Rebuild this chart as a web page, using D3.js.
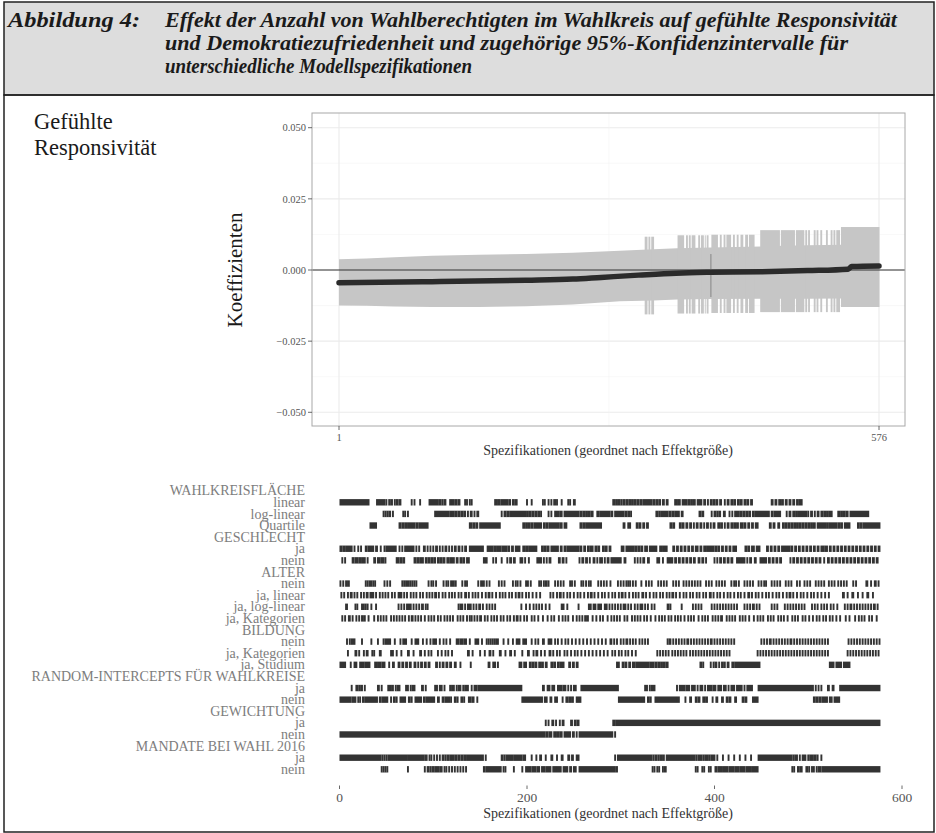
<!DOCTYPE html>
<html>
<head>
<meta charset="UTF-8">
<script src="https://cdn.jsdelivr.net/npm/d3@7"></script>
<style>
body{margin:0;background:#fff;font-family:"Liberation Serif","Times New Roman",serif;}
</style>
</head>
<body>
<script>
var nSpecs = 576;

// title lines
var titleLabel = "Abbildung 4:";
var titleLines = ["Effekt der Anzahl von Wahlberechtigten im Wahlkreis auf gefühlte Responsivität",
                  "und Demokratiezufriedenheit und zugehörige 95%-Konfidenzintervalle für",
                  "unterschiedliche Modellspezifikationen"];

// coefficient curve, read at some specs: [spec, coef]
var coefs = [[1,-0.0045],[100,-0.0041],[200,-0.0036],[250,-0.0032],[280,-0.0026],[320,-0.0018],
             [360,-0.0011],[397,-0.0008],[450,-0.0006],[500,-0.0002],[543,0.0003],[547,0.0012],[576,0.0014]];
// normal width of the 95% band: [spec, lo, hi]
var ciBand = [[1,-0.0125,0.0038],[30,-0.0126,0.0040],[60,-0.0128,0.0045],[100,-0.0130,0.0050],
              [150,-0.0130,0.0054],[200,-0.0127,0.0056],[250,-0.0121,0.0061],[300,-0.0110,0.0068],
              [336,-0.0107,0.0073],[361,-0.0104,0.0076],[397,-0.0102,0.0079],[450,-0.0101,0.0083],
              [500,-0.0101,0.0087],[536,-0.0100,0.0089]];
// wider intervals: [from, to, lo, hi]
var ciWide = [[327,329,-0.0156,0.0117],[331,332,-0.0156,0.0117],[334,336,-0.0156,0.0117],
  [362,368,-0.0153,0.0122],[371,372,-0.0153,0.0122],[374,375,-0.0153,0.0122],[377,380,-0.0153,0.0122],
  [384,385,-0.0153,0.0122],[387,389,-0.0153,0.0122],[391,391,-0.0153,0.0122],[393,394,-0.0153,0.0122],
  [398,404,-0.0151,0.0124],[407,408,-0.0151,0.0124],[411,412,-0.0151,0.0124],[414,418,-0.0151,0.0124],
  [421,422,-0.0151,0.0124],[425,426,-0.0151,0.0124],[429,431,-0.0151,0.0124],[434,436,-0.0151,0.0124],
  [438,443,-0.0151,0.0124],[450,470,-0.0148,0.0140],[472,486,-0.0148,0.0140],[488,496,-0.0148,0.0140],
  [498,499,-0.0148,0.0140],[501,502,-0.0148,0.0140],[507,508,-0.0148,0.0140],[510,511,-0.0148,0.0140],
  [514,515,-0.0148,0.0140],[520,521,-0.0148,0.0140],[525,526,-0.0148,0.0140],[528,529,-0.0148,0.0140],
  [531,534,-0.0148,0.0140],[536,576,-0.0130,0.0151]];
var markedSpec = {spec:397, lo:-0.0095, hi:0.0056};
var yTicks = [-0.05,-0.025,0,0.025,0.05];

// specification rows: single spec or [from,to]
var wkLinear = [[1,31],[40,48],50,53,[55,56],59,[61,62],[64,65],77,80,86,[96,105],[107,108],110,[112,113],[118,119],
  [121,122],[124,125],[127,128],134,136,139,141,[166,168],[170,171],[173,179],[181,182],[185,186],[188,189],200,205,
  217,219,223,226,[229,230],232,237,244,246,[250,251],[292,293],[295,296],[298,299],301,[303,304],[306,307],[309,310],
  [312,313],[315,316],[318,319],[321,322],[324,333],[335,336],[338,339],[341,342],[345,346],[349,350],[358,360],
  [362,363],[366,370],[372,373],[375,376],[378,379],[382,386],[389,390],393,[396,397],[399,400],[402,403],[406,407],
  411,[414,415],[418,419],[421,422],[425,426],[428,429],[432,433],[435,436],[439,440],[461,462],[465,466],[469,470],
  [472,473],[476,477],[480,481],[484,485],[488,489],[491,493]];
var wkLogLinear = [47,49,51,[53,54],57,68,70,73,[102,116],[118,119],[121,122],[124,125],[127,128],[130,131],[133,134],
  137,[140,141],144,[147,148],173,[176,177],[179,180],[182,183],[185,198],[200,201],[203,204],[206,207],[209,210],
  [212,213],215,223,226,[230,231],[233,234],[236,237],[240,255],[257,258],[260,261],[263,264],[266,267],[269,270],
  [275,276],[278,288],[290,291],[294,303],[305,306],[308,309],311,[338,339],341,[343,350],[352,353],[355,356],
  [358,359],[361,362],[365,366],[384,385],[387,388],397,[400,401],403,[405,406],[410,411],416,419,[422,423],
  [425,426],[428,429],[431,432],[434,435],[437,438],[441,442],[444,458],[461,462],[464,470],477,[480,481],[484,485],
  [487,488],[490,498],500,[503,504],507,[510,511],[514,515],[517,518],[520,521],[523,525],[532,533],[535,536],
  [538,539],[541,542],[545,564]];
var wkQuartile = [[33,39],[64,65],[67,68],[70,72],[74,80],[82,83],[85,94],[139,141],[143,144],[146,147],[150,171],
  [196,197],[199,200],[202,203],[205,206],[208,215],[218,219],[221,222],[224,234],[236,237],[240,242],[257,258],
  [260,261],[263,279],[303,304],[308,310],[317,318],[320,321],[324,325],[328,329],[353,354],[356,357],[363,364],
  [366,367],[370,371],[374,375],378,[381,382],[385,386],389,[392,393],396,[399,400],[404,405],[407,408],411,
  [414,415],[418,419],[421,422],[424,425],[428,430],[432,433],[436,437],[440,441],[444,446],[459,460],[463,464],
  [468,469],[473,474],[476,477],[479,480],[482,483],[485,486],[488,489],[491,492],[494,495],[497,498],[500,501],
  [503,504],[506,507],[510,518],[520,521],[523,530],[532,533],[535,536],[539,544],[553,554],[556,557],[559,576]];
var geschlechtJa = [[1,2],[4,5],[7,13],16,20,23,[28,29],[31,36],[39,40],44,48,[50,60],64,67,[70,79],82,85,[90,91],94,
  97,100,[103,104],107,110,[113,114],117,120,[123,124],[127,128],131,[134,135],[139,153],[158,163],[165,166],[168,172],
  [174,178],[180,181],[184,185],[188,192],[196,197],[199,201],[203,210],[216,217],[219,220],[222,223],[226,233],
  [236,237],[240,241],[243,255],[257,258],[261,262],[265,266],[268,270],[273,274],[276,277],[281,282],[284,285],
  [288,289],[301,303],[306,314],[316,317],[319,320],[322,323],[326,328],[331,338],[342,344],[346,349],[356,357],
  [360,361],[364,365],[368,369],[372,373],[376,377],[380,382],[385,386],[389,390],[392,399],[401,402],[404,405],
  [408,409],[412,413],[416,417],[420,423],[433,434],[436,437],[440,442],[445,448],[456,457],[460,461],[464,465],
  [468,469],[472,480],[482,483],[486,487],[490,491],[494,495],[498,499],[502,503],[506,507],[510,511],[514,516],
  [518,520],[523,524],[527,528],[531,532],[535,536],[539,540],[543,544],[547,548],[551,552],[555,556],[559,560],
  [563,564],[567,568],[571,572],[575,576]];
var alterNein = [1,4,[7,8],10,28,30,[32,34],36,38,48,51,54,67,69,71,[73,74],76,78,80,82,95,98,100,103,111,114,116,
  119,[121,122],124,131,134,136,148,151,[153,154],157,160,170,173,176,185,188,190,193,199,201,204,213,215,218,
  [220,221],223,230,233,236,239,246,248,251,258,260,263,266,268,276,279,282,285,289,297,300,303,306,308,310,313,
  316,322,327,330,333,340,343,346,349,356,359,362,367,370,373,376,379,382,385,391,394,397,402,405,408,411,418,421,
  423,426,432,435,438,441,447,450,453,455,461,464,467,470,476,479,482,488,491,496,499,502,508,511,514,517,522,525,
  528,532,535,538,541,548,551,[562,563],567,[571,572],575];
var alterLinear = [2,5,9,[12,13],16,19,23,26,[29,30],[33,36],39,43,46,49,52,56,59,[63,66],69,72,76,79,82,86,89,93,96,
  99,[102,103],106,110,113,117,120,123,127,130,[134,135],138,142,145,148,152,156,[159,160],163,167,171,174,177,181,
  184,188,[191,192],195,199,202,206,210,214,225,228,232,[235,236],239,243,246,250,254,257,261,265,[268,269],272,276,
  280,283,287,291,294,298,[301,302],305,309,313,316,319,[323,324],327,331,335,338,342,345,349,352,[355,356],359,
  363,367,370,374,377,381,384,388,391,[395,396],399,403,406,410,414,417,421,425,428,432,[436,437],440,444,447,451,
  455,458,462,466,469,473,477,[480,481],484,488,492,495,499,503,506,510,514,518,522,[537,538],542,[547,548],553,
  558,[563,564],569];
var alterLogLinear = [[7,8],17,19,[24,26],28,30,34,39,63,66,69,[72,76],79,82,85,[88,89],92,94,127,[129,131],134,
  [137,140],143,146,[149,150],153,157,160,163,166,194,199,203,207,210,213,216,220,224,[237,239],243,255,[266,268],
  [271,273],[276,279],[283,285],288,291,294,297,300,[303,305],308,311,315,318,[321,323],326,329,333,336,[350,351],
  353,365,377,380,383,386,397,400,403,406,409,412,415,418,421,424,432,435,438,[441,442],445,448,461,464,467,475,
  478,481,484,487,490,493,496,504,507,510,514,517,520,524,527,531,539,542,[545,546],549,552,555,558,561,564,567,
  [570,571],574];
var alterKat = [3,6,[10,11],14,18,21,[24,25],27,31,37,41,44,47,50,55,58,61,64,67,70,74,[77,78],81,84,87,91,95,98,
  101,105,108,112,115,118,121,126,129,132,136,139,141,144,147,[150,151],155,158,162,165,168,172,175,179,182,186,
  [189,190],193,197,200,205,208,212,217,222,226,229,234,238,241,244,249,253,256,259,262,[264,265],270,274,278,281,
  286,290,293,296,299,304,307,312,315,318,321,325,328,332,337,341,344,347,351,354,358,361,364,368,372,375,378,383,
  387,390,393,398,401,404,[407,408],413,416,419,422,427,430,433,437,442,446,449,452,457,460,463,468,471,474,478,
  483,486,489,494,497,501,505,509,512,516,519,523,526,530,534,540,544,550,554,557,560,565,568,573];
var bildungNein = [8,11,[13,16],24,34,41,47,[49,54],59,65,[68,71],77,[81,84],89,93,97,[100,103],107,111,114,118,
  [125,127],[129,131],[133,135],139,[145,148],152,157,159,161,163,165,167,169,175,180,185,[189,192],[196,199],205,209,
  212,[217,218],[223,226],230,233,237,241,244,248,252,256,260,264,268,272,276,280,284,289,290,293,296,300,303,
  [306,307],310,313,316,320,323,326,329,350,[352,353],356,359,362,365,368,[371,372],375,378,381,384,387,390,393,
  [396,397],400,403,406,409,412,415,418,421,450,453,456,[459,460],463,466,469,472,475,478,[481,482],485,488,491,
  494,497,500,503,506,509,512,515,518,521,543,546,549,552,555,558,561,564,567,570,573,576];
var bildungKat = [9,[17,18],21,26,[29,30],35,37,[43,44],55,57,61,66,[73,74],79,[86,87],91,95,98,105,109,113,116,120,
  [137,138],142,150,155,[160,161],164,[171,172],177,[182,183],187,195,[201,202],207,[210,211],215,219,[224,225],228,
  232,235,240,243,247,251,254,258,262,266,270,274,278,282,286,291,294,298,301,305,308,312,316,339,342,345,348,351,
  355,358,361,364,367,370,374,377,380,383,386,389,392,395,398,401,404,407,410,413,416,446,449,452,455,458,461,464,
  467,470,473,476,479,482,485,488,491,494,497,500,503,506,509,512,515,518,521,542,545,548,551,554,557,560,563,566,
  569,572,575];
var bildungStudium = [[1,6],12,[16,18],[22,23],[25,26],[28,32],[38,40],[42,44],[46,48],53,[57,58],[63,64],[67,68],
  [71,72],[75,76],[80,81],84,[87,88],[91,92],[95,96],[103,104],107,[110,111],[114,115],[118,119],[123,124],129,140,
  [159,160],[164,166],169,[192,194],[197,199],[203,204],[206,207],[209,210],[213,214],[216,217],[220,221],[226,227],
  [229,230],[233,234],[236,237],[238,239],[245,246],[249,250],[253,254],[296,298],[302,303],[305,306],[309,310],
  [313,315],[317,330],[332,335],[337,338],[340,341],[343,344],[346,347],[349,350],[385,386],388,396,399,[401,402],
  405,[408,409],411,[414,415],[419,420],[422,448],[523,527],[530,535],[538,544]];
var randomJa = [13,[18,19],21,[23,24],27,[41,42],45,[52,54],[56,57],60,[62,64],[71,73],76,[78,80],[88,89],92,
  [102,104],[107,109],112,118,[120,122],125,[127,129],132,[134,137],141,[144,146],[148,194],[217,218],[222,224],
  [227,229],[233,237],[239,241],244,247,[250,252],[258,297],[326,328],331,[333,336],360,[363,368],[370,373],
  [376,379],382,[385,387],390,[393,397],[399,401],[404,407],[410,412],415,[418,421],[424,429],432,[435,440],
  [447,505],508,511,514,[521,522],[526,527],[534,576]];
var gewichtungJa = [220,223,[227,228],231,235,[238,239],[247,248],[251,252],[254,255],[292,293],[295,576]];
var mandateJa = [[1,44],46,48,50,[52,72],[74,90],[92,93],96,98,101,104,107,[110,111],113,[115,116],[118,119],
  [121,122],[124,125],[127,128],[130,131],[133,134],[136,153],156,[173,174],176,[178,185],[187,194],[196,198],205,
  210,[214,215],220,[226,227],232,[237,238],[244,245],[248,249],[253,255],294,[297,333],335,[337,338],340,
  [342,344],346,[349,379],381,[383,386],388,[390,393],395,[397,400],403,409,415,421,427,433,439,[447,482],484,
  [486,488],491,[494,497],500,[502,503],505,[507,508],510,514];

// label column; rows without runs are group headings
var rows = [
  {label:"WAHLKREISFLÄCHE"}, {label:"linear", runs:wkLinear}, {label:"log-linear", runs:wkLogLinear},
  {label:"Quartile", runs:wkQuartile},
  {label:"GESCHLECHT"}, {label:"ja", runs:geschlechtJa}, {label:"nein", notOf:geschlechtJa},
  {label:"ALTER"}, {label:"nein", runs:alterNein}, {label:"ja, linear", runs:alterLinear},
  {label:"ja, log-linear", runs:alterLogLinear}, {label:"ja, Kategorien", runs:alterKat},
  {label:"BILDUNG"}, {label:"nein", runs:bildungNein}, {label:"ja, Kategorien", runs:bildungKat},
  {label:"ja, Studium", runs:bildungStudium},
  {label:"RANDOM-INTERCEPTS FÜR WAHLKREISE"}, {label:"ja", runs:randomJa}, {label:"nein", notOf:randomJa},
  {label:"GEWICHTUNG"}, {label:"ja", runs:gewichtungJa}, {label:"nein", notOf:gewichtungJa},
  {label:"MANDATE BEI WAHL 2016"}, {label:"ja", runs:mandateJa}, {label:"nein", notOf:mandateJa}
];
var bottomTicks = [0,200,400,600];

var width = 936, height = 833;
var svg = d3.select("body").append("svg").attr("width",width).attr("height",height);

// frame + title box
svg.append("rect").attr("x",4).attr("y",2).attr("width",930).attr("height",93)
   .attr("fill","#dddddd").attr("stroke","#222").attr("stroke-width",1.5);
svg.append("rect").attr("x",4).attr("y",95).attr("width",930).attr("height",737)
   .attr("fill","none").attr("stroke","#222").attr("stroke-width",1.5);

var tEnds = [897, 848, 472];
svg.append("text").attr("x",8).attr("y",27).attr("font-size",20).attr("font-style","italic")
   .attr("font-weight","bold").attr("fill","#1a1a1a").attr("textLength",132).attr("lengthAdjust","spacingAndGlyphs")
   .text(titleLabel);
titleLines.forEach(function(t,i){
  svg.append("text").attr("x",165).attr("y",27 + i*23).attr("font-size",20).attr("font-style","italic")
     .attr("font-weight","bold").attr("fill","#1a1a1a")
     .attr("textLength",tEnds[i]-165).attr("lengthAdjust","spacingAndGlyphs").text(t);
});

svg.append("text").attr("x",34).attr("y",129).attr("font-size",22.5).attr("fill","#1a1a1a").text("Gefühlte");
svg.append("text").attr("x",34).attr("y",155).attr("font-size",22.5).attr("fill","#1a1a1a").text("Responsivität");

// ---- top panel ----
var px0 = 312, px1 = 905, py0 = 113, py1 = 426;
var x = d3.scaleLinear().domain([1,nSpecs]).range([339,879]);
var y = d3.scaleLinear().domain([-0.05,0.05]).range([412.3,127.7]);

var gTop = svg.append("g");
gTop.append("rect").attr("x",px0).attr("y",py0).attr("width",px1-px0).attr("height",py1-py0).attr("fill","white");
var minorY = yTicks.slice(1).map(function(d,i){ return (d + yTicks[i])/2; });
gTop.selectAll(".gmy").data(minorY).enter().append("line")
   .attr("x1",px0).attr("x2",px1).attr("y1",function(d){return y(d);}).attr("y2",function(d){return y(d);})
   .attr("stroke","#f3f3f3").attr("stroke-width",0.6);
gTop.selectAll(".gy").data(yTicks).enter().append("line")
   .attr("x1",px0).attr("x2",px1).attr("y1",function(d){return y(d);}).attr("y2",function(d){return y(d);})
   .attr("stroke","#ebebeb").attr("stroke-width",1.1);
gTop.append("line").attr("x1",x((1+nSpecs)/2)).attr("x2",x((1+nSpecs)/2)).attr("y1",py0).attr("y2",py1)
   .attr("stroke","#f3f3f3").attr("stroke-width",0.6);
gTop.selectAll(".gx").data([1,nSpecs]).enter().append("line")
   .attr("x1",function(d){return x(d);}).attr("x2",function(d){return x(d);}).attr("y1",py0).attr("y2",py1)
   .attr("stroke","#ebebeb").attr("stroke-width",1.1);

var band = d3.area().x(function(d){return x(d[0]);}).y0(function(d){return y(d[1]);}).y1(function(d){return y(d[2]);})
   .curve(d3.curveLinear);
gTop.append("path").datum(ciBand).attr("d",band).attr("fill","#c6c6c6");
gTop.selectAll(".wide").data(ciWide).enter().append("rect")
   .attr("x",function(d){return x(d[0]-0.5);}).attr("width",function(d){return x(d[1]+0.5)-x(d[0]-0.5);})
   .attr("y",function(d){return y(d[3]);}).attr("height",function(d){return y(d[2])-y(d[3]);})
   .attr("fill","#c6c6c6");

gTop.append("line").attr("x1",px0).attr("x2",px1).attr("y1",y(0)).attr("y2",y(0))
   .attr("stroke","#333").attr("stroke-width",1);
gTop.append("line").attr("x1",x(markedSpec.spec)).attr("x2",x(markedSpec.spec))
   .attr("y1",y(markedSpec.hi)).attr("y2",y(markedSpec.lo)).attr("stroke","#858585").attr("stroke-width",1);

var coefLine = d3.line().x(function(d){return x(d[0]);}).y(function(d){return y(d[1]);}).curve(d3.curveMonotoneX);
gTop.append("path").datum(coefs).attr("d",coefLine).attr("fill","none")
   .attr("stroke","#2b2b2b").attr("stroke-width",5.5).attr("stroke-linecap","round");

gTop.append("rect").attr("x",px0).attr("y",py0).attr("width",px1-px0).attr("height",py1-py0)
   .attr("fill","none").attr("stroke","#a8a8a8").attr("stroke-width",1);

// y axis
gTop.selectAll(".yt").data(yTicks).enter().append("line")
   .attr("x1",px0-4).attr("x2",px0).attr("y1",function(d){return y(d);}).attr("y2",function(d){return y(d);})
   .attr("stroke","#444").attr("stroke-width",0.8);
gTop.selectAll(".yl").data(yTicks).enter().append("text")
   .attr("x",px0-6).attr("y",function(d){return y(d);}).attr("dy","0.35em").attr("text-anchor","end")
   .attr("font-size",10.5).attr("fill","#555").text(d3.format(".3f"));
// x axis
gTop.selectAll(".xt").data([1,nSpecs]).enter().append("line")
   .attr("x1",function(d){return x(d);}).attr("x2",function(d){return x(d);}).attr("y1",py1).attr("y2",py1+4)
   .attr("stroke","#444").attr("stroke-width",0.8);
gTop.selectAll(".xl").data([1,nSpecs]).enter().append("text")
   .attr("x",function(d){return x(d);}).attr("y",441).attr("text-anchor","middle")
   .attr("font-size",10.5).attr("fill","#555").text(function(d){return d;});
gTop.append("text").attr("x",608).attr("y",455).attr("text-anchor","middle").attr("font-size",14)
   .attr("fill","#333").text("Spezifikationen (geordnet nach Effektgröße)");
gTop.append("text").attr("transform","translate(242,270) rotate(-90)").attr("text-anchor","middle")
   .attr("font-size",21).attr("fill","#1a1a1a").text("Koeffizienten");

// ---- bottom panel ----
var xb = d3.scaleLinear().domain([0,600]).range([339.5,902]);
var slot = d3.scaleLinear().domain([0,24]).range([490.7,769.3]);

function toSet(runs){
  var s = new Set();
  runs.forEach(function(r){
    var a = Array.isArray(r) ? r[0] : r, b = Array.isArray(r) ? r[1] : r;
    for (var i = a; i <= b; i++) s.add(i);
  });
  return s;
}
function toRuns(s){
  var out = [], start = null;
  for (var i = 1; i <= nSpecs + 1; i++){
    if (s.has(i) && start === null) start = i;
    if (!s.has(i) && start !== null){ out.push([start, i-1]); start = null; }
  }
  return out;
}

var gBot = svg.append("g");
rows.forEach(function(r,i){
  var isHead = !r.runs && !r.notOf;
  gBot.append("text").attr("x",305).attr("y",slot(i)).attr("dy","0.33em").attr("text-anchor","end")
     .attr("font-size",14).attr("fill","#7d7d7d").text(r.label);
  if (isHead) return;
  var s;
  if (r.runs) s = toSet(r.runs);
  else { // each spec uses exactly one of the two options
    var other = toSet(r.notOf); s = new Set();
    for (var k = 1; k <= nSpecs; k++) if (!other.has(k)) s.add(k);
  }
  gBot.selectAll(null).data(toRuns(s)).enter().append("rect")
     .attr("x",function(d){return xb(d[0]) - 0.95;})
     .attr("width",function(d){return xb(d[1]) - xb(d[0]) + 1.9;})
     .attr("y",slot(i)-3.2).attr("height",6.4).attr("fill","#333");
});

gBot.selectAll(".bt").data(bottomTicks).enter().append("line")
   .attr("x1",function(d){return xb(d);}).attr("x2",function(d){return xb(d);}).attr("y1",785.5).attr("y2",789)
   .attr("stroke","#444").attr("stroke-width",0.8);
gBot.selectAll(".bl").data(bottomTicks).enter().append("text")
   .attr("x",function(d){return xb(d);}).attr("y",797).attr("dy","0.35em").attr("text-anchor","middle")
   .attr("font-size",13.5).attr("fill","#555").text(function(d){return d;});
gBot.append("text").attr("x",608).attr("y",818).attr("text-anchor","middle").attr("font-size",14)
   .attr("fill","#333").text("Spezifikationen (geordnet nach Effektgröße)");
</script>
</body>
</html>
